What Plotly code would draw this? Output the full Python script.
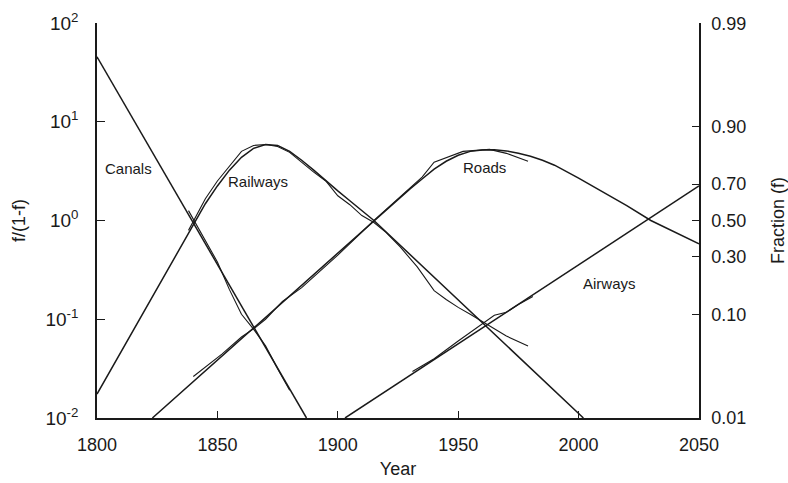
import numpy as np
import plotly.graph_objects as go

# Logistic substitution of transport infrastructure, plotted as f/(1-f).
# Values below are log10(f/(1-f)).

# fitted (model) trajectories
canal_fit_years = [1800, 1887]
canal_fit_log = [1.657, -2.0]

rail_fit_years = [1800, 1841, 1845, 1850, 1855, 1860, 1865, 1870, 1875, 1880,
                  1885, 1890, 1895, 1900, 1905, 1910, 1915, 2002]
rail_fit_log = [-1.758, 0.0, 0.17, 0.35, 0.51, 0.64, 0.73, 0.77, 0.76, 0.70,
                0.61, 0.51, 0.40, 0.30, 0.20, 0.10, 0.0, -2.0]

road_fit_years = [1823, 1915, 1930, 1935, 1940, 1945, 1950, 1955, 1960, 1965,
                  1970, 1975, 1980, 1985, 1990, 2000, 2010, 2020, 2030, 2040, 2050]
road_fit_log = [-2.0, 0.0, 0.32, 0.42, 0.52, 0.60, 0.66, 0.70, 0.715, 0.717,
                0.705, 0.68, 0.65, 0.61, 0.56, 0.43, 0.29, 0.15, 0.0, -0.12, -0.235]

air_fit_years = [1903, 2050]
air_fit_log = [-2.0, 0.35]

# observed shares
canal_obs_years = [1838, 1845, 1850, 1855, 1860, 1865, 1870, 1875, 1880]
canal_obs_log = [0.10, -0.20, -0.42, -0.70, -0.95, -1.10, -1.27, -1.50, -1.72]

rail_obs_years = [1838, 1845, 1850, 1855, 1860, 1865, 1870, 1875, 1880, 1890,
                  1895, 1900, 1905, 1910, 1915, 1920, 1926, 1933, 1940, 1945,
                  1950, 1955, 1963, 1970, 1979]
rail_obs_log = [-0.10, 0.22, 0.40, 0.55, 0.70, 0.76, 0.77, 0.75, 0.69, 0.49,
                0.40, 0.25, 0.16, 0.05, -0.02, -0.12, -0.27, -0.47, -0.71, -0.80,
                -0.88, -0.95, -1.07, -1.17, -1.27]

road_obs_years = [1840, 1852, 1860, 1866, 1870, 1877, 1885, 1900, 1915, 1925,
                  1935, 1940, 1952, 1963, 1970, 1979]
road_obs_log = [-1.58, -1.35, -1.18, -1.08, -1.00, -0.82, -0.68, -0.35, 0.0, 0.22,
                0.44, 0.59, 0.70, 0.72, 0.68, 0.60]

air_obs_years = [1931, 1940, 1950, 1960, 1965, 1970, 1975, 1981]
air_obs_log = [-1.53, -1.40, -1.22, -1.05, -0.96, -0.93, -0.85, -0.77]

# axis ticks
year_ticks = [1800, 1850, 1900, 1950, 2000, 2050]
ratio_ticks = [0.01, 0.1, 1, 10, 100]
ratio_tick_text = ["10<sup>-2</sup>", "10<sup>-1</sup>", "10<sup>0</sup>",
                   "10<sup>1</sup>", "10<sup>2</sup>"]
fraction_ticks = [0.01, 0.10, 0.30, 0.50, 0.70, 0.90, 0.99]

# curve labels: (text, year, log value)
labels = [("Canals", 1813, 0.53), ("Railways", 1867, 0.39),
          ("Roads", 1961, 0.54), ("Airways", 2013, -0.64)]

INK = "#1a1a1a"
FONT = "Liberation Sans, Arial, sans-serif"

fig = go.Figure()


def add_curve(years, logs, width):
    fig.add_trace(go.Scatter(
        x=years, y=np.power(10.0, logs), mode="lines",
        line=dict(color=INK, width=width), showlegend=False, hoverinfo="skip"))


for yrs, lg in [(canal_fit_years, canal_fit_log), (rail_fit_years, rail_fit_log),
                (road_fit_years, road_fit_log), (air_fit_years, air_fit_log)]:
    add_curve(yrs, lg, 1.5)

for yrs, lg in [(canal_obs_years, canal_obs_log), (rail_obs_years, rail_obs_log),
                (road_obs_years, road_obs_log), (air_obs_years, air_obs_log)]:
    add_curve(yrs, lg, 1.1)

# invisible trace so the fraction axis on the right is drawn
fig.add_trace(go.Scatter(x=[1800], y=[0.01], yaxis="y2", mode="markers",
                         marker=dict(opacity=0), showlegend=False, hoverinfo="skip"))

for text, yr, lg in labels:
    fig.add_annotation(x=yr, y=lg, text=text, showarrow=False,
                       font=dict(size=15, color=INK, family=FONT))

fig.update_layout(
    width=788, height=483,
    margin=dict(l=97, r=89, t=23, b=65),
    paper_bgcolor="white", plot_bgcolor="white",
    font=dict(family=FONT, size=18, color=INK),
    xaxis=dict(range=[1800, 2050], tickvals=year_ticks, ticks="inside", ticklen=7,
               tickcolor=INK, showline=True, linecolor=INK, linewidth=1.5,
               showgrid=False, zeroline=False, ticklabelstandoff=10,
               tickfont=dict(size=18), automargin=False,
               title=dict(text="Year", standoff=8, font=dict(size=18))),
    yaxis=dict(type="log", range=[-2, 2], tickvals=ratio_ticks, ticktext=ratio_tick_text,
               ticks="inside", ticklen=8, tickcolor=INK, showline=True, linecolor=INK,
               linewidth=1.5, showgrid=False, zeroline=False, ticklabelstandoff=13,
               tickfont=dict(size=19), automargin=False,
               title=dict(text="f/(1-f)", standoff=15, font=dict(size=18))),
    yaxis2=dict(type="log", range=[-2, 2], overlaying="y", side="right",
                tickvals=[f / (1 - f) for f in fraction_ticks],
                ticktext=["%.2f" % f for f in fraction_ticks],
                ticks="inside", ticklen=7, tickcolor=INK, showline=True, linecolor=INK,
                linewidth=1.5, showgrid=False, zeroline=False, ticklabelstandoff=7,
                tickfont=dict(size=18), automargin=False,
                title=dict(text="Fraction (f)", standoff=30, font=dict(size=18))),
)

fig.write_html("out.html")
